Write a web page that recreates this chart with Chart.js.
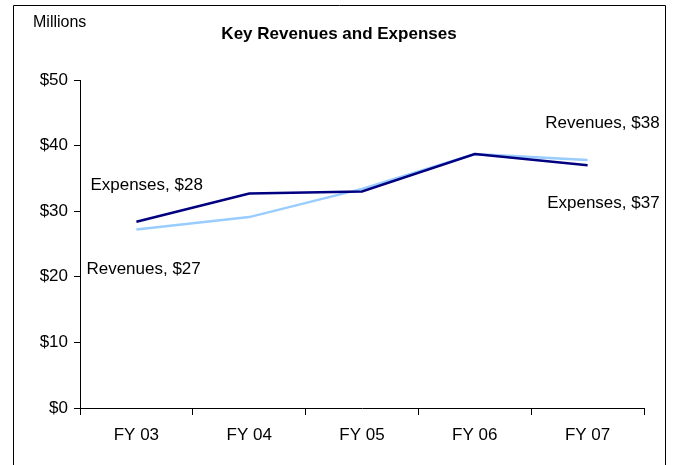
<!DOCTYPE html>
<html>
<head>
<meta charset="utf-8">
<script src="https://cdn.jsdelivr.net/npm/chart.js@4.4.0/dist/chart.umd.min.js"></script>
<style>
  html, body { margin: 0; padding: 0; background: #fff; }
  #wrap { width: 673px; height: 465px; }
</style>
</head>
<body>
<div id="wrap"><canvas id="chart" width="673" height="465"></canvas></div>
<script>
// Chart data
const categories = ["FY 03", "FY 04", "FY 05", "FY 06", "FY 07"];
const revenues = [27.2, 29.1, 33.4, 38.7, 37.8];
const expenses = [28.4, 32.7, 33.0, 38.7, 37.0];
const yTicks = [0, 10, 20, 30, 40, 50];

const FONT = '"Liberation Sans Narrow", "Arial Narrow", "Liberation Sans", Arial, sans-serif';

// Frame, title, unit and end labels
const decorations = {
  id: 'decorations',
  afterDraw(chart) {
    const ctx = chart.ctx;
    const x = chart.scales.x;
    const y = chart.scales.y;
    ctx.save();

    ctx.strokeStyle = '#000';
    ctx.lineWidth = 1;
    ctx.beginPath();
    ctx.moveTo(13.5, 470);
    ctx.lineTo(13.5, 5.5);
    ctx.lineTo(665.5, 5.5);
    ctx.lineTo(665.5, 470);
    ctx.stroke();

    ctx.fillStyle = '#000';
    ctx.textBaseline = 'middle';
    ctx.font = '16px ' + FONT;
    ctx.textAlign = 'left';
    ctx.fillText('Millions', 33, 23);

    ctx.font = 'bold 17px ' + FONT;
    ctx.textAlign = 'center';
    ctx.fillText('Key Revenues and Expenses', 339, 34);

    ctx.font = '17px ' + FONT;
    const last = categories.length - 1;
    const x0 = x.getPixelForValue(0);
    const xN = x.getPixelForValue(last);

    ctx.textAlign = 'left';
    ctx.fillText('Expenses, $' + Math.round(expenses[0]), x0 - 46, y.getPixelForValue(expenses[0]) - 36);
    ctx.fillText('Revenues, $' + Math.round(revenues[0]), x0 - 50, y.getPixelForValue(revenues[0]) + 40);

    ctx.textAlign = 'right';
    ctx.fillText('Revenues, $' + Math.round(revenues[last]), xN + 72, y.getPixelForValue(revenues[last]) - 37);
    ctx.fillText('Expenses, $' + Math.floor(expenses[last]), xN + 72, y.getPixelForValue(expenses[last]) + 38);

    ctx.restore();
  }
};

new Chart(document.getElementById('chart'), {
  type: 'line',
  data: {
    labels: categories,
    datasets: [
      {
        label: 'Expenses',
        data: expenses,
        borderColor: '#000080',
        borderWidth: 2.5,
        pointRadius: 0,
        tension: 0
      },
      {
        label: 'Revenues',
        data: revenues,
        borderColor: '#99ccff',
        borderWidth: 2.5,
        pointRadius: 0,
        tension: 0
      }
    ]
  },
  options: {
    responsive: false,
    animation: false,
    layout: { padding: { top: 80, right: 29, left: 0, bottom: 0 } },
    plugins: {
      legend: { display: false },
      tooltip: { enabled: false }
    },
    scales: {
      x: {
        offset: true,
        grid: {
          offset: true,
          drawOnChartArea: false,
          drawTicks: true,
          tickLength: 7,
          color: '#000'
        },
        border: { color: '#000', width: 1 },
        ticks: {
          color: '#000',
          font: { family: FONT, size: 17 },
          padding: 10
        },
        afterFit(scale) { scale.height = 57; }
      },
      y: {
        min: 0,
        max: 50,
        afterBuildTicks(scale) {
          scale.ticks = yTicks.map(v => ({ value: v }));
        },
        grid: {
          drawOnChartArea: false,
          drawTicks: true,
          tickLength: 6,
          color: '#000'
        },
        border: { color: '#000', width: 1 },
        ticks: {
          color: '#000',
          font: { family: FONT, size: 17 },
          padding: 6,
          callback: v => '$' + v
        },
        afterFit(scale) { scale.width = 80; }
      }
    }
  },
  plugins: [decorations]
});
</script>
</body>
</html>
